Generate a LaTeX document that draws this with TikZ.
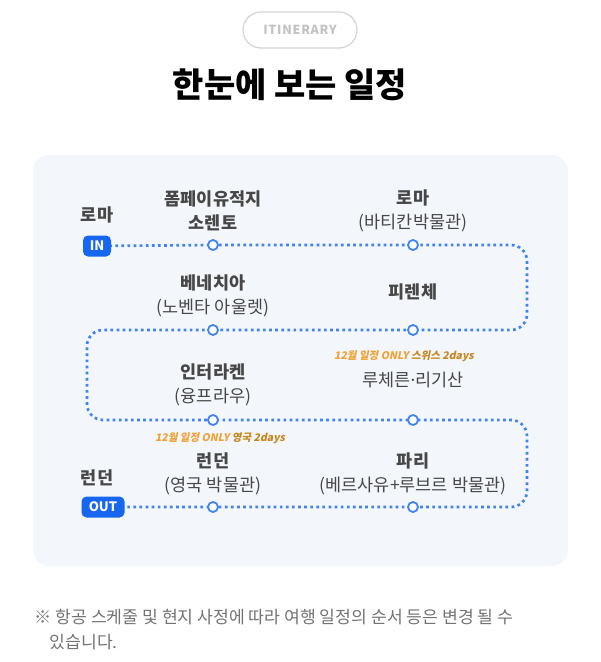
\documentclass[tikz,border=0pt]{standalone}
\usepackage{fontspec}
\setmainfont{Noto Sans CJK KR}
\newfontfamily\slantfont{Noto Sans CJK KR}[FakeSlant=0.2]
\newfontfamily\tagfont{Noto Sans CJK KR}[LetterSpace=6]
\newfontfamily\dotfont{Noto Sans}
\usepackage{tikz}
\usetikzlibrary{positioning}
\definecolor{routeblue}{HTML}{4183F0}
\definecolor{badgeblue}{HTML}{1766F0}
\definecolor{panelbg}{HTML}{F3F6FB}
\definecolor{labelgray}{HTML}{474747}
\definecolor{footgray}{HTML}{737373}
\definecolor{pillgray}{HTML}{D6D6D6}
\definecolor{tagtext}{HTML}{C2C2C2}
\definecolor{noteorange}{HTML}{F0A236}
\definecolor{notebrown}{HTML}{C7871F}
\pgfdeclarelayer{back}
\pgfsetlayers{back,main}
\tikzset{
    stop/.style={circle, draw=routeblue, fill=white, line width=1.8pt,
    minimum size=10pt, inner sep=0pt},
    badge/.style={fill=badgeblue, text=white, rounded corners=5pt,
    font=\bfseries\fontsize{13}{13}\selectfont, minimum height=21pt, inner sep=3pt},
    place/.style={text=labelgray, align=center, font=\fontsize{17.5}{23.5}\selectfont},
    route/.style={draw=routeblue, line width=2.7pt, dash pattern=on 2.7pt off 3.4pt,
    rounded corners=16pt},
    onlynote/.style={font=\slantfont\bfseries\fontsize{10.5}{12}\selectfont},
    footnote/.style={text=footgray, anchor=west, font=\fontsize{17.2}{20}\selectfont},
}

\begin{document}
\begin{tikzpicture}[x=1pt, y=-1pt]
    \useasboundingbox (0,0) rectangle (601,662);
    % header
    \node[draw=pillgray, line width=1.3pt, rounded corners=18pt, minimum width=114pt,
    minimum height=36pt, text=tagtext, font=\tagfont\bfseries\fontsize{12.5}{12.5}\selectfont]
    (tag) at (300,30) {ITINERARY};
    \node[font=\bfseries\fontsize{34}{34}\selectfont, text=black] (title) at (290,85) {한눈에 보는 일정};
    % stops
    \node[stop] (pompeii) at (213,245) {};
    \node[stop] (vatican) at (413,245) {};
    \node[stop] (venice) at (213,330) {};
    \node[stop] (florence) at (413,330) {};
    \node[stop] (interlaken) at (213,420) {};
    \node[stop] (lucerne) at (413,420) {};
    \node[stop] (museum) at (213,507) {};
    \node[stop] (paris) at (413,507) {};
    \node[badge, minimum width=28pt] (in) at (97,246) {IN};
    \node[badge, minimum width=43pt] (out) at (103,507) {OUT};
    \coordinate (ne1) at (527,245);
    \coordinate (ne2) at (527,330);
    \coordinate (nw2) at (87,330);
    \coordinate (nw3) at (87,420);
    \coordinate (ne3) at (527,420);
    \coordinate (ne4) at (527,507);
    % panel and route
    \begin{pgfonlayer}{back}
        \fill[panelbg, rounded corners=16pt] (33,155) rectangle (568,566);
        \draw[route] (in.center) -- (pompeii.center) -- (vatican.center) -- (ne1) -- (ne2)
        -- (florence.center) -- (venice.center) -- (nw2) -- (nw3) -- (interlaken.center)
        -- (lucerne.center) -- (ne3) -- (ne4) -- (paris.center) -- (museum.center) -- (out.center);
    \end{pgfonlayer}
    % labels
    \node[place] (romeinlbl) at (97,215) {\bfseries 로마};
    \node[place] (pompeiilbl) at (213,211) {\bfseries 폼페이유적지\\\bfseries 소렌토};
    \node[place] (vaticanlbl) at (413,211) {\bfseries 로마\\(바티칸박물관)};
    \node[place] (venicelbl) at (213,296) {\bfseries 베네치아\\(노벤타 아울렛)};
    \node[place] (florencelbl) at (413,292) {\bfseries 피렌체};
    \node[place] (interlakenlbl) at (213,385) {\bfseries 인터라켄\\(융프라우)};
    \node[place] (lucernelbl) at (413,380) {루체른{\dotfont ·}리기산};
    \node[place] (londonoutlbl) at (97,478) {\bfseries 런던};
    \node[place] (museumlbl) at (213,474) {\bfseries 런던\\(영국 박물관)};
    \node[place] (parislbl) at (413,474) {\bfseries 파리\\(베르사유+루브르 박물관)};
    \node[onlynote] (swissnote) at (404,356) {\textcolor{noteorange}{12월 일정 ONLY} \textcolor{notebrown}{스위스 2days}};
    \node[onlynote] (uknote) at (220,438) {\textcolor{noteorange}{12월 일정 ONLY} \textcolor{notebrown}{영국 2days}};
    % footnote
    \node[footnote] (foot1) at (31,617) {※ 항공 스케줄 및 현지 사정에 따라 여행 일정의 순서 등은 변경 될 수};
    \node[footnote] (foot2) at (46,642) {있습니다.};
\end{tikzpicture}
\end{document}
